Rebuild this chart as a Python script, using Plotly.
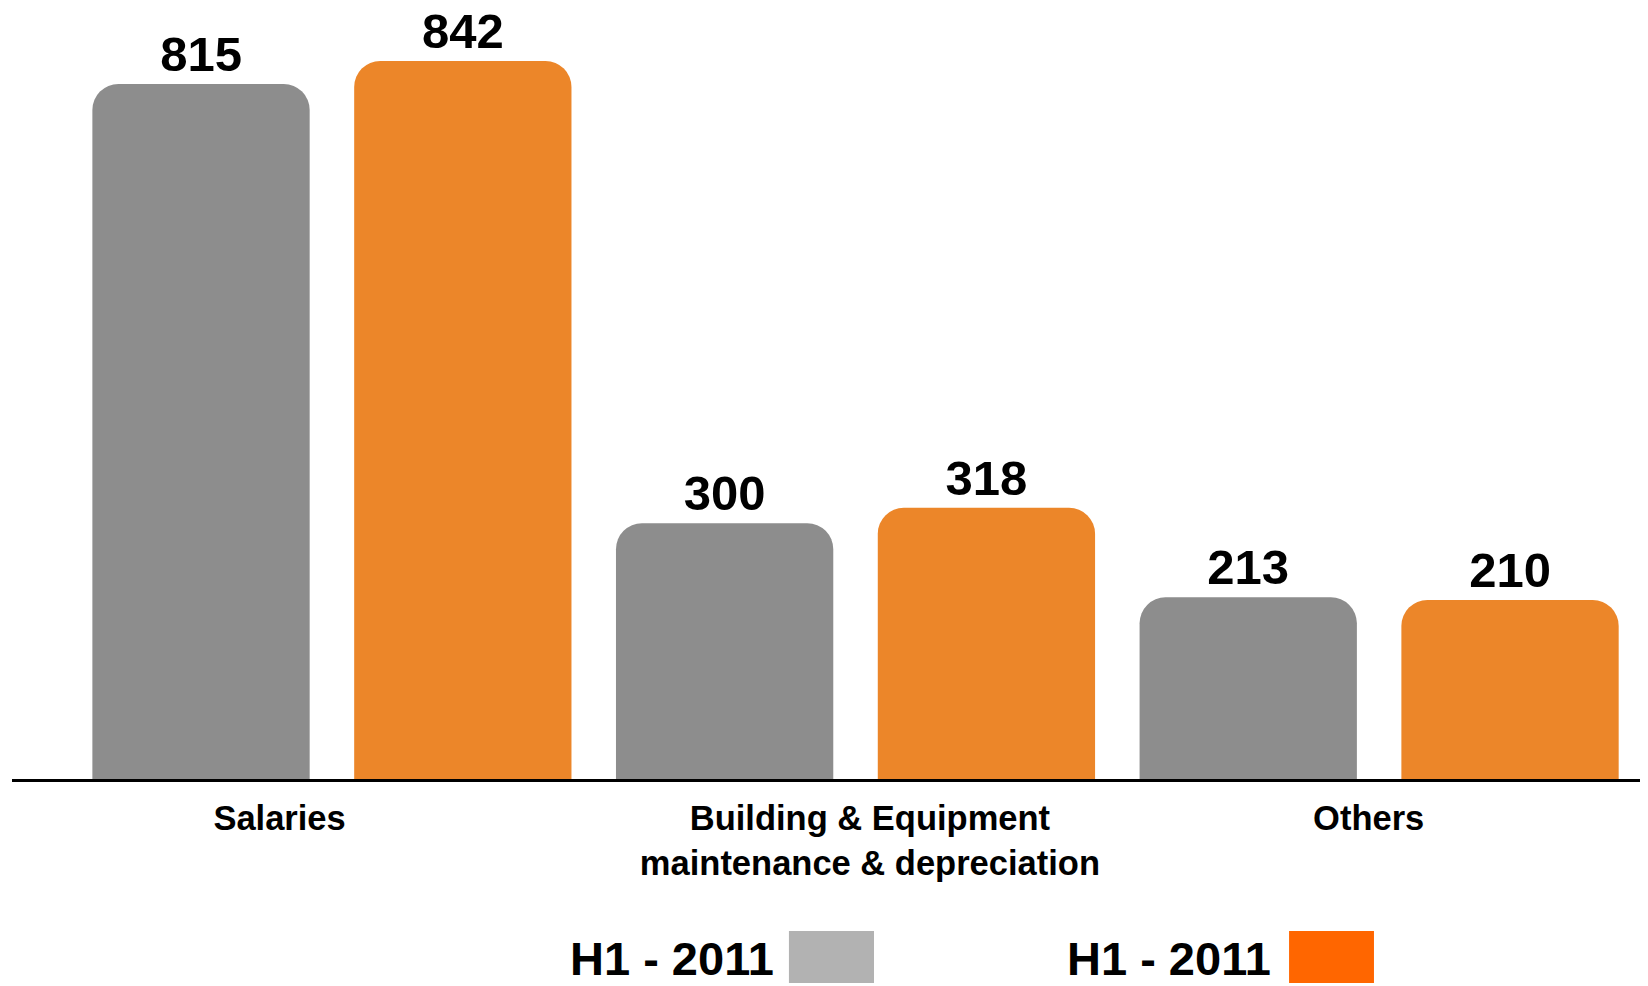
import plotly.graph_objects as go

categories = ["Salaries", "Building & Equipment<br>maintenance & depreciation", "Others"]
series_names = ["H1 - 2011", "H1 - 2011"]
values_a = [815, 300, 213]
values_b = [842, 318, 210]

bar_colors = ["#8d8d8d", "#ec8629"]
legend_colors = ["#b2b2b2", "#ff6600"]
label_offsets = [-0.2, 0.055, -0.04]

NUM_FONT = "Liberation Sans Narrow, Arial Narrow, Liberation Sans, Arial, sans-serif"
CAT_FONT = "Liberation Sans, Arial, sans-serif"

n = len(categories)
x_a = [2 * i for i in range(n)]
x_b = [2 * i + 1 for i in range(n)]

fig = go.Figure()
for xs, vals, col, name in [(x_a, values_a, bar_colors[0], series_names[0]),
                            (x_b, values_b, bar_colors[1], series_names[1])]:
    fig.add_trace(go.Bar(
        x=xs, y=vals, name=name, width=0.83,
        marker=dict(color=col, line=dict(width=0), cornerradius=26),
        text=[str(v) for v in vals], textposition="outside",
        textfont=dict(family=NUM_FONT, size=49, color="black", weight="bold"),
        cliponaxis=False, showlegend=False,
    ))

tickvals = [2 * i + 0.5 + label_offsets[i] for i in range(n)]

fig.update_layout(
    width=1640, height=978,
    margin=dict(l=4, r=0, t=12, b=207),
    paper_bgcolor="white", plot_bgcolor="white",
    barmode="overlay",
    showlegend=False,
    xaxis=dict(range=[-0.722, 5.527], showgrid=False, zeroline=False,
               showline=True, linecolor="black", linewidth=3,
               tickvals=tickvals, ticktext=categories, ticks="",
               ticklabelstandoff=7,
               tickfont=dict(family=CAT_FONT, size=34.5, color="black", weight="bold")),
    yaxis=dict(range=[0, 890], visible=False, showgrid=False, zeroline=False),
)

# custom legend: text followed by swatch
leg_text_right = [0.4664, 0.7702]
leg_sw_x = [(0.4749, 0.5269), (0.7806, 0.8325)]
for i in range(2):
    fig.add_annotation(xref="paper", yref="paper", x=leg_text_right[i], y=-0.237,
                       xanchor="right", yanchor="middle", showarrow=False,
                       borderpad=0,
                       text=series_names[i],
                       font=dict(family=NUM_FONT, size=47, color="black", weight="bold"))
    fig.add_shape(type="rect", xref="paper", yref="paper",
                  x0=leg_sw_x[i][0], x1=leg_sw_x[i][1], y0=-0.2688, y1=-0.2003,
                  fillcolor=legend_colors[i], line=dict(width=0))

fig.write_html("out.html")
